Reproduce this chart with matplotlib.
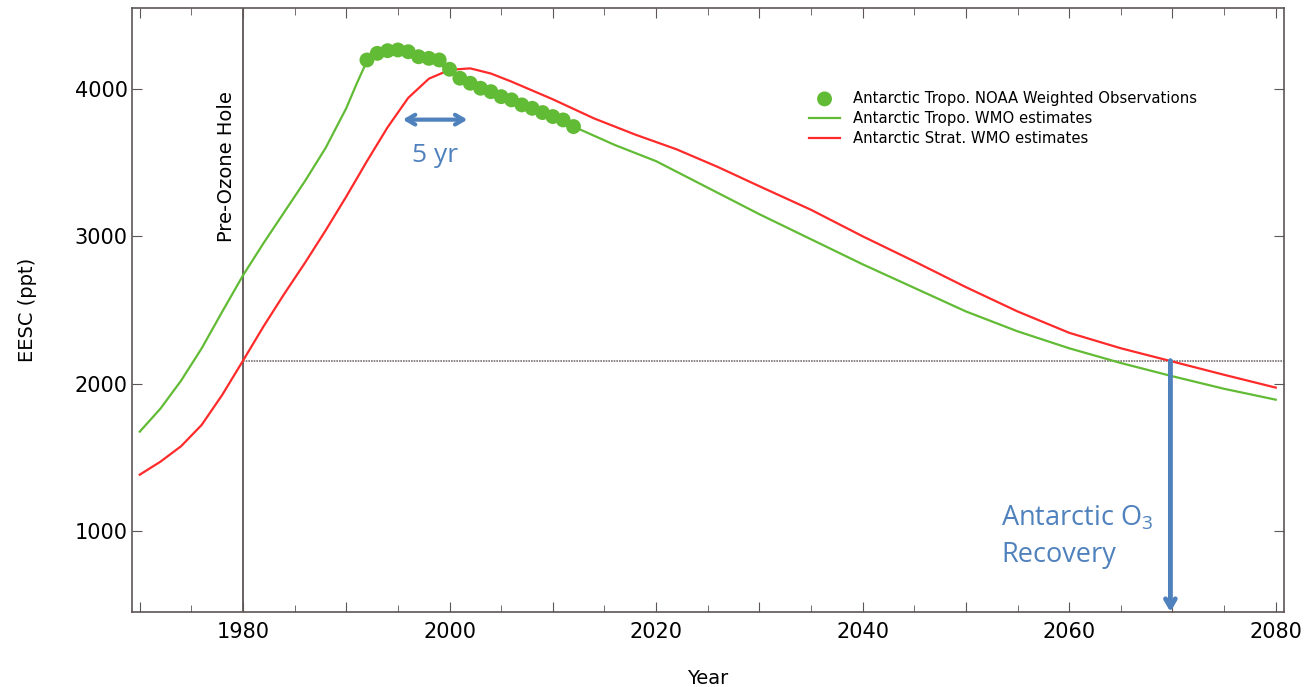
import numpy as np
import matplotlib.pyplot as plt

# data
obs_year = np.arange(1992, 2013)
obs_eesc = [4197, 4242, 4260, 4265, 4253, 4219, 4208, 4197, 4134, 4073, 4039,
            4005, 3982, 3948, 3926, 3892, 3869, 3840, 3813, 3790, 3745]

tropo_year = [1970, 1972, 1974, 1976, 1978, 1980, 1982, 1984, 1986, 1988, 1990,
              1991, 1992, 1994, 1996, 1998, 2000, 2002, 2004, 2006, 2008, 2010,
              2012, 2016, 2020, 2025, 2030, 2035, 2040, 2045, 2050, 2055, 2060,
              2065, 2070, 2075, 2080]
tropo_eesc = [1674, 1830, 2020, 2240, 2490, 2735, 2955, 3165, 3375, 3600, 3870,
              4035, 4190, 4250, 4240, 4200, 4130, 4040, 3980, 3920, 3865, 3810,
              3745, 3620, 3510, 3330, 3150, 2980, 2810, 2650, 2490, 2355, 2240,
              2140, 2050, 1965, 1891]

strat_year = [1970, 1972, 1974, 1976, 1978, 1980, 1982, 1984, 1986, 1988, 1990,
              1992, 1994, 1996, 1998, 2000, 2002, 2004, 2006, 2008, 2010, 2014,
              2018, 2022, 2026, 2030, 2035, 2040, 2045, 2050, 2055, 2060, 2065,
              2070, 2075, 2080]
strat_eesc = [1382, 1470, 1575, 1720, 1925, 2156, 2390, 2610, 2820, 3040, 3270,
              3510, 3740, 3940, 4070, 4130, 4140, 4105, 4050, 3990, 3930, 3800,
              3690, 3590, 3470, 3340, 3180, 3000, 2830, 2655, 2490, 2345, 2240,
              2150, 2060, 1973]

pre_hole_year = 1980
pre_hole_eesc = 2156
recovery_year = 2069.8
lag_start, lag_end, lag_level = 1995.2, 2002.0, 3792

green = '#62bb35'
red = '#ff2a2a'
blue = '#4f81bd'
axis_col = '#5e5555'

plt.rcParams['font.family'] = 'DejaVu Sans'
fig = plt.figure(figsize=(13.16, 6.87), dpi=100)
ax = fig.add_axes([0.1003, 0.1092, 0.8754, 0.8792])

ax.set_xlim(1969.25, 2080.8)
ax.set_ylim(450, 4550)

ax.axvline(pre_hole_year, color=axis_col, lw=1.3)
ax.hlines(pre_hole_eesc, pre_hole_year, 2080.8, color='#777070', lw=1.2,
          linestyles=(0, (1, 0.6)))

ax.plot(tropo_year, tropo_eesc, color=green, lw=1.6,
        label='Antarctic Tropo. WMO estimates')
ax.plot(strat_year, strat_eesc, color=red, lw=1.6,
        label='Antarctic Strat. WMO estimates')
ax.scatter(obs_year, obs_eesc, s=115, color=green, edgecolors='none', zorder=3,
           label='Antarctic Tropo. NOAA Weighted Observations')

# annotations
ax.annotate('', xy=(lag_end, lag_level), xytext=(lag_start, lag_level),
            arrowprops=dict(arrowstyle='<->,head_length=0.6,head_width=0.35',
                            color=blue, lw=3))
ax.text((lag_start + lag_end) / 2, 3550, '5 yr', color=blue, fontsize=19,
        family='Open Sans', ha='center', va='center')
ax.annotate('', xy=(recovery_year, 450), xytext=(recovery_year, pre_hole_eesc),
            arrowprops=dict(arrowstyle='->,head_length=0.6,head_width=0.35',
                            color=blue, lw=3.5, shrinkA=0, shrinkB=0))
ax.text(2053.4, 1180, r'Antarctic O$\mathregular{_3}$' + '\nRecovery', color=blue,
        fontsize=19.5, family='Open Sans', ha='left', va='top', linespacing=1.4)
ax.text(pre_hole_year - 0.7, 2964, 'Pre-Ozone Hole', rotation=90, fontsize=14,
        ha='right', va='bottom')

h, l = ax.get_legend_handles_labels()
ax.legend([h[2], h[0], h[1]], [l[2], l[0], l[1]], loc='upper left',
          bbox_to_anchor=(0.576, 0.885), frameon=False, fontsize=10.7,
          handlelength=2.1, handletextpad=0.85, labelspacing=0.35)

ax.set_xticks(np.arange(1970, 2081, 10))
ax.set_xticklabels(['' if t % 20 else str(t) for t in range(1970, 2081, 10)])
ax.set_xticks(np.arange(1970, 2081, 5), minor=True)
ax.set_yticks([1000, 2000, 3000, 4000])
ax.tick_params(which='both', direction='in', top=True, right=True,
               color=axis_col, labelsize=15)
ax.tick_params(which='major', length=7)
ax.tick_params(which='minor', length=5)
ax.tick_params(axis='x', pad=7)
ax.tick_params(axis='y', pad=3)
for s in ax.spines.values():
    s.set_color(axis_col)
    s.set_linewidth(1.2)

ax.set_xlabel('Year', fontsize=14, labelpad=20)
ax.set_ylabel('EESC (ppt)', fontsize=14, labelpad=27)

fig.savefig('out.png', dpi=100)
